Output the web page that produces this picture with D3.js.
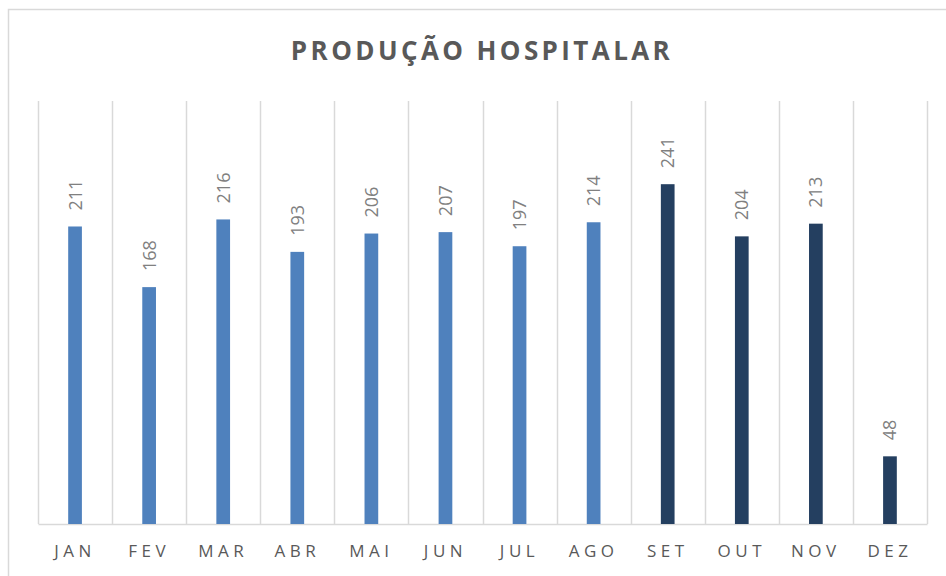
<!DOCTYPE html>
<html>
<head>
<meta charset="utf-8">
<script src="https://cdn.jsdelivr.net/npm/d3@7"></script>
<style>
  html, body { margin: 0; padding: 0; background: #fff; }
  svg { display: block; font-family: "Open Sans", sans-serif; }
</style>
</head>
<body>
<div id="vis"></div>
<script>
// Datos del gráfico
const meses = ["JAN", "FEV", "MAR", "ABR", "MAI", "JUN", "JUL", "AGO", "SET", "OUT", "NOV", "DEZ"];
const producao = [211, 168, 216, 193, 206, 207, 197, 214, 241, 204, 213, 48];
// Periodo de cada mes (os últimos quatro meses vão em cor escura)
const periodo = ["a", "a", "a", "a", "a", "a", "a", "a", "b", "b", "b", "b"];
const titulo = "PRODUÇÃO HOSPITALAR";

const WIDTH = 946;
const HEIGHT = 576;
const margin = { top: 101, right: 19, bottom: 52, left: 38 };

const svg = d3.select("#vis")
    .append("svg")
    .attr("width", WIDTH)
    .attr("height", HEIGHT);

// Borda do gráfico
svg.append("rect")
    .attr("x", 8.5)
    .attr("y", 9.5)
    .attr("width", WIDTH)
    .attr("height", HEIGHT)
    .attr("fill", "none")
    .attr("stroke", "#d9d9d9")
    .attr("stroke-width", 1.5);

// Título
svg.append("text")
    .attr("x", 482)
    .attr("y", 60)
    .attr("text-anchor", "middle")
    .attr("fill", "#595959")
    .attr("font-size", 26)
    .attr("font-weight", "bold")
    .attr("letter-spacing", 3.4)
    .text(titulo);

// Escalas
const x = d3.scaleBand()
    .domain(meses)
    .range([margin.left, WIDTH - margin.right])
    .paddingInner(0)
    .paddingOuter(0);

const y = d3.scaleLinear()
    .domain([0, 300])
    .range([HEIGHT - margin.bottom, margin.top]);

const color = d3.scaleOrdinal()
    .domain(["a", "b"])
    .range(["#4f81bd", "#243f60"]);

const dados = meses.map((m, i) => ({ mes: m, valor: producao[i], periodo: periodo[i] }));

// Linhas de grade verticais (entre categorias)
const bordas = meses.map(m => x(m)).concat([x(meses[meses.length - 1]) + x.bandwidth()]);
svg.append("g")
    .attr("class", "grade")
    .selectAll("line")
    .data(bordas)
    .enter()
    .append("line")
    .attr("x1", d => Math.round(d) + 0.5)
    .attr("x2", d => Math.round(d) + 0.5)
    .attr("y1", y(300))
    .attr("y2", y(0))
    .attr("stroke", "#d9d9d9")
    .attr("stroke-width", 1.5);

// Eixo X
const eixoX = svg.append("g")
    .attr("transform", `translate(0, ${y(0)})`)
    .call(d3.axisBottom(x).tickSize(0).tickPadding(21));

eixoX.select(".domain")
    .attr("stroke", "#d9d9d9")
    .attr("stroke-width", 1.5);

eixoX.selectAll("text")
    .attr("fill", "#595959")
    .attr("font-size", 17)
    .attr("font-family", "Open Sans, sans-serif")
    .attr("letter-spacing", 4.5);

// Barras
const larguraBarra = x.bandwidth() * 0.185;
svg.append("g")
    .attr("class", "barras")
    .selectAll("rect")
    .data(dados)
    .enter()
    .append("rect")
    .attr("x", d => x(d.mes) + x.bandwidth() / 2 - larguraBarra / 2)
    .attr("y", d => y(d.valor))
    .attr("width", larguraBarra)
    .attr("height", d => y(0) - y(d.valor))
    .attr("fill", d => color(d.periodo));

// Rótulos de valor (rotados)
svg.append("g")
    .attr("class", "rotulos")
    .selectAll("text")
    .data(dados)
    .enter()
    .append("text")
    .attr("transform", d => `translate(${x(d.mes) + x.bandwidth() / 2 + 6.5}, ${y(d.valor) - 16}) rotate(-90)`)
    .attr("text-anchor", "start")
    .attr("fill", "#808080")
    .attr("font-size", 18)
    .text(d => d.valor);
</script>
</body>
</html>
